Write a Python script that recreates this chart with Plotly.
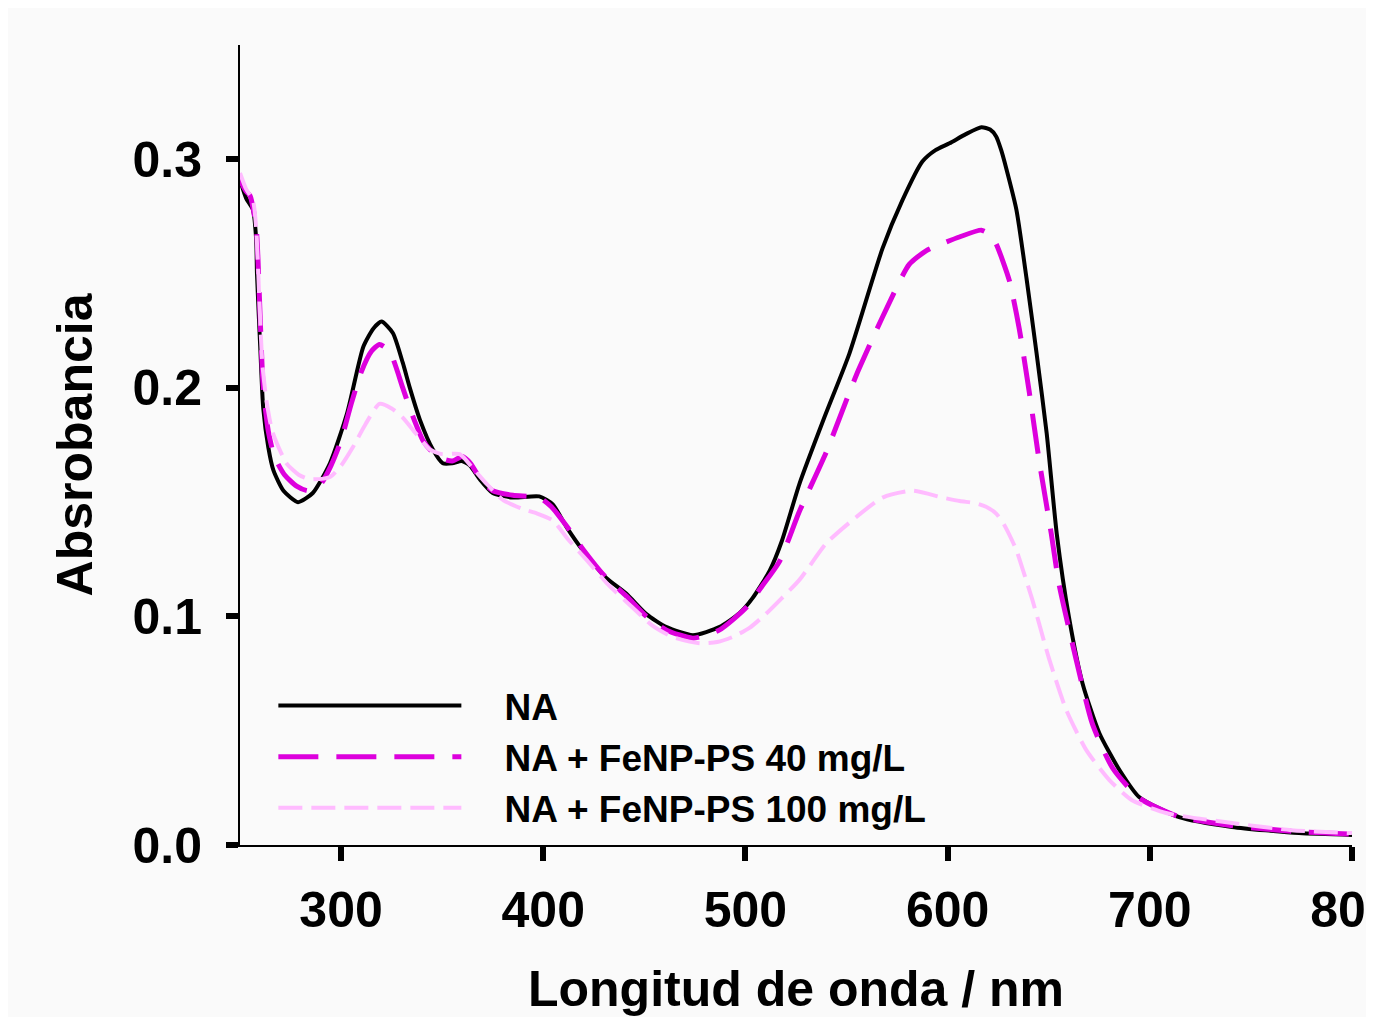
import plotly.graph_objects as go

# ---- data ----
x_na = [250, 253, 256.4, 258, 258.4, 260, 261.5, 264, 266.5, 271.5, 278.7, 286, 294.5, 303, 311, 316, 320,
        325.6, 330.5, 334, 339, 345.4, 350.3, 355, 359.7, 363.7, 368.6, 375, 385, 398, 404.7, 411.6, 419.5,
        431, 441, 451, 461, 474, 487, 497, 503.5, 512, 518, 526.7, 539, 551.4, 567.8, 577.6, 587.5, 594,
        600.9, 609, 616.7, 621, 624, 626.5, 629, 634, 639, 644, 649, 654, 660, 666.7, 675, 685, 694.7,
        714.5, 740.7, 773.8, 800]
y_na = [0.291, 0.283, 0.278, 0.265, 0.250, 0.218, 0.191, 0.174, 0.164, 0.155, 0.150, 0.154, 0.167, 0.189,
        0.218, 0.226, 0.229, 0.224, 0.211, 0.200, 0.186, 0.173, 0.167, 0.167, 0.168, 0.166, 0.160, 0.154,
        0.152, 0.1525, 0.149, 0.139, 0.129, 0.117, 0.110, 0.101, 0.0953, 0.0918, 0.0953, 0.1014, 0.108,
        0.120, 0.133, 0.158, 0.187, 0.215, 0.261, 0.282, 0.299, 0.304, 0.307, 0.311, 0.314, 0.313, 0.310,
        0.304, 0.296, 0.278, 0.248, 0.215, 0.180, 0.136, 0.0997, 0.0708, 0.049, 0.0328, 0.021, 0.0122,
        0.0079, 0.0052, 0.0044]

x_40 = [250, 253, 255, 258, 260, 261.5, 264, 267, 272, 278, 283.6, 290, 295, 300, 305, 310, 315, 319, 324,
        330.5, 334, 340.5, 345, 350, 355, 360, 364, 369, 375, 385, 398, 404, 412, 420, 431, 441, 451, 461,
        474, 487, 500.5, 508, 516.8, 526.7, 540, 551.4, 556, 567.8, 581, 589.5, 597, 605.8, 616.7, 621,
        624, 630.5, 635.4, 640.4, 645.3, 651.3, 655, 663.6, 671.6, 681.4, 694.7, 714, 740, 774, 800]
y_40 = [0.291, 0.286, 0.284, 0.270, 0.230, 0.200, 0.181, 0.170, 0.162, 0.157, 0.155, 0.158, 0.166, 0.177,
        0.193, 0.207, 0.216, 0.219, 0.216, 0.200, 0.191, 0.177, 0.172, 0.169, 0.168, 0.170, 0.167, 0.160,
        0.155, 0.153, 0.152, 0.148, 0.139, 0.129, 0.117, 0.109, 0.100, 0.094, 0.0905, 0.094, 0.104, 0.113,
        0.124, 0.146, 0.172, 0.198, 0.208, 0.231, 0.254, 0.260, 0.263, 0.266, 0.269, 0.267, 0.263, 0.247,
        0.226, 0.198, 0.168, 0.136, 0.1146, 0.081, 0.053, 0.034, 0.0206, 0.0125, 0.0085, 0.0058, 0.0048]

x_100 = [250, 253, 256.4, 258, 259.5, 261, 263, 266, 273, 279, 284.6, 294.5, 300, 305.8, 312, 319, 325,
         330.5, 337, 344, 350, 358.7, 365, 372, 380, 389.8, 397, 404.7, 412, 421.5, 432, 444, 454, 464,
         477.3, 486, 493.6, 502, 510, 518, 526.7, 540, 551.4, 567.8, 582.6, 597.4, 606, 614, 619, 624, 628,
         632, 634, 642, 650, 658.7, 668.6, 680, 691, 708, 740.7, 770, 800]
y_100 = [0.294, 0.287, 0.282, 0.270, 0.240, 0.211, 0.195, 0.181, 0.167, 0.162, 0.160, 0.161, 0.166, 0.174,
         0.184, 0.193, 0.191, 0.187, 0.180, 0.173, 0.171, 0.171, 0.165, 0.158, 0.151, 0.147, 0.145, 0.142,
         0.134, 0.1246, 0.114, 0.104, 0.096, 0.091, 0.0883, 0.0888, 0.091, 0.095, 0.101, 0.108, 0.116,
         0.132, 0.141, 0.152, 0.155, 0.152, 0.1505, 0.1495, 0.148, 0.145, 0.140, 0.133, 0.129, 0.107,
         0.082, 0.059, 0.0415, 0.0284, 0.0197, 0.014, 0.0096, 0.0065, 0.0052]

names = ["NA", "NA + FeNP-PS 40 mg/L", "NA + FeNP-PS 100 mg/L"]
x_ticks = [300, 400, 500, 600, 700, 800]
y_ticks = [0.0, 0.1, 0.2, 0.3]
y_ticktext = ["0.0", "0.1", "0.2", "0.3"]

FONT = "Liberation Sans, Arial, sans-serif"
BG = "#fafafa"
PAD = "\u00a0\u00a0\u00a0\u2009"  # gap between legend line and its label

fig = go.Figure()
fig.add_trace(go.Scatter(x=x_na, y=y_na, name=PAD + names[0], mode="lines",
                         line=dict(color="#000000", width=4, shape="spline", smoothing=0.6)))
fig.add_trace(go.Scatter(x=x_40, y=y_40, name=PAD + names[1], mode="lines",
                         line=dict(color="#dd00dd", width=5, dash="40px,18px", shape="spline", smoothing=0.6)))
fig.add_trace(go.Scatter(x=x_100, y=y_100, name=PAD + names[2], mode="lines",
                         line=dict(color="#ffbbff", width=4, dash="24px,9px", shape="spline", smoothing=0.6)))

axis_common = dict(showgrid=False, zeroline=False, showline=True, linecolor="#000000", linewidth=2,
                   ticks="outside", tickcolor="#000000", tickwidth=6, automargin=False,
                   ticklabeloverflow="allow",
                   tickfont=dict(family=FONT, size=50, color="#000000", weight="bold"))

fig.update_layout(
    width=1366, height=1009,
    margin=dict(l=232, r=22, t=37, b=172),
    paper_bgcolor=BG, plot_bgcolor=BG,
    font=dict(family=FONT, color="#000000"),
    xaxis=dict(range=[250, 800], tickvals=x_ticks, ticklen=14, ticklabelstandoff=6,
               title=dict(text="Longitud de onda / nm", standoff=47,
                          font=dict(family=FONT, size=50, color="#000000", weight="bold")),
               **axis_common),
    yaxis=dict(range=[0, 0.35], tickvals=y_ticks, ticktext=y_ticktext, ticklen=12, ticklabelstandoff=14,
               title=dict(text="Absrobancia", standoff=24,
                          font=dict(family=FONT, size=50, color="#000000", weight="bold")),
               **axis_common),
    legend=dict(x=0.03, y=0.2125, xanchor="left", yanchor="top", bgcolor="rgba(0,0,0,0)",
                itemwidth=183, tracegroupgap=0,
                font=dict(family=FONT, size=37, color="#000000", weight="bold")),
    showlegend=True,
)

fig.write_html("out.html")
